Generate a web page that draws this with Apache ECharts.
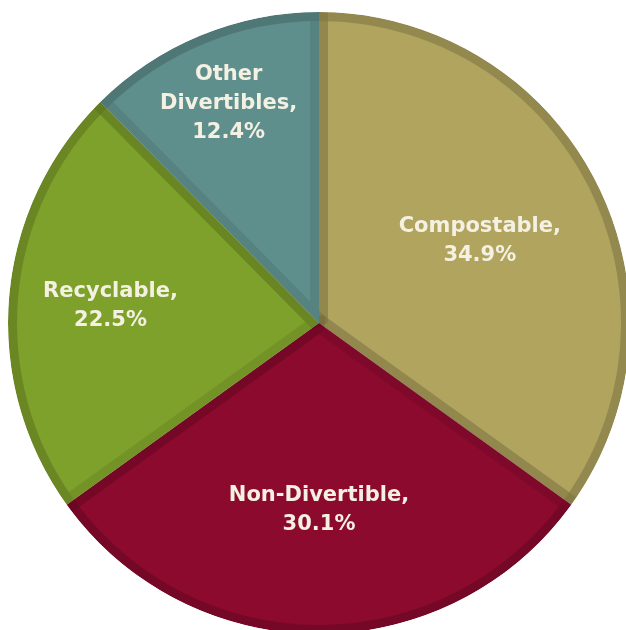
<!DOCTYPE html>
<html>
<head>
<meta charset="utf-8">
<script src="https://cdn.jsdelivr.net/npm/echarts@6/dist/echarts.min.js"></script>
<style>
  html, body { margin: 0; padding: 0; background: #ffffff; }
  #chart { width: 626px; height: 630px; }
</style>
</head>
<body>
<div id="chart"></div>
<script>
// Waste composition shares (percent), clockwise from 12 o'clock
const categories = ['Compostable', 'Non-Divertible', 'Recyclable', 'Other Divertibles'];
const shares = [34.9, 30.1, 22.5, 12.4];
const labelNames = ['Compostable,', 'Non-Divertible,', 'Recyclable,', 'Other\nDivertibles,'];

// Slice fills and how far out (fraction of radius) each label sits
const sliceColors = ['#B0A45E', '#8C0A2E', '#7EA12B', '#5F8F8D'];
const labelRadiusRatio = [0.57, 0.59, 0.66, 0.75];

const CX = 319, CY = 323, R = 311;

const chart = echarts.init(document.getElementById('chart'), null, { renderer: 'canvas' });

const pieData = categories.map((name, i) => ({
  name: name,
  value: shares[i],
  itemStyle: { color: sliceColors[i] }
}));

const option = {
  animation: false,
  backgroundColor: '#ffffff',
  series: [
    {
      // main slices; the translucent dark border gives each wedge its bevelled rim
      type: 'pie',
      center: [CX, CY],
      radius: [0, R],
      startAngle: 90,
      clockwise: true,
      avoidLabelOverlap: false,
      silent: true,
      z: 1,
      data: pieData,
      itemStyle: {
        borderWidth: 18,
        borderColor: 'rgba(0,0,0,0.085)',
        borderJoin: 'bevel'
      },
      label: {
        show: true,
        position: 'inside',
        color: '#F4F1E3',
        fontFamily: 'DejaVu Sans',
        fontWeight: 'bold',
        fontSize: 21,
        lineHeight: 29,
        align: 'center',
        formatter: p => labelNames[p.dataIndex] + '\n' + p.value.toFixed(1) + '%'
      },
      labelLine: { show: false },
      labelLayout: function (params) {
        const rect = params.labelRect;
        const lx = rect.x + rect.width / 2;
        const ly = rect.y + rect.height / 2;
        const k = labelRadiusRatio[params.dataIndex] / 0.5 - 1;
        return { dx: (lx - CX) * k, dy: (ly - CY) * k };
      }
    },
    {
      // darker rim along the outer arc
      type: 'pie',
      center: [CX, CY],
      radius: [R - 9, R],
      startAngle: 90,
      silent: true,
      z: 2,
      data: pieData.map(d => ({ name: d.name, value: d.value })),
      itemStyle: { color: 'rgba(0,0,0,0.08)', borderWidth: 0 },
      label: { show: false },
      labelLine: { show: false }
    },
    {
      // white mask that trims the border stroke outside the circle
      type: 'pie',
      center: [CX, CY],
      radius: [R, R + 40],
      startAngle: 90,
      silent: true,
      z: 3,
      data: [{ name: '', value: 1 }],
      itemStyle: { color: '#ffffff', borderWidth: 0 },
      label: { show: false },
      labelLine: { show: false }
    }
  ]
};

chart.setOption(option);
</script>
</body>
</html>
